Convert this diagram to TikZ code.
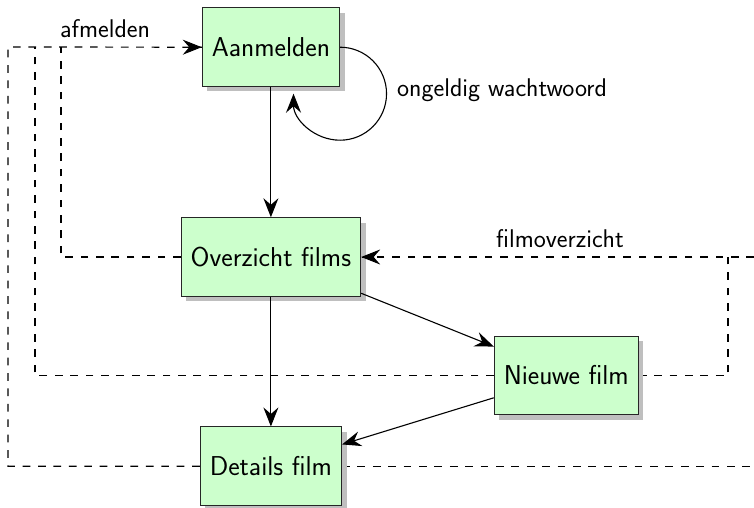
\documentclass[tikz,border=0pt]{standalone}
\usepackage{fontspec}
\usetikzlibrary{arrows.meta,shadows,backgrounds}
\definecolor{boxgreen}{HTML}{CCFFCC}
\begin{document}
\begin{tikzpicture}[x=1pt,y=-1pt,
  state/.style={draw=black!85, line width=1pt, fill=boxgreen,
    font=\sffamily\fontsize{27.3}{32}\selectfont,
    inner xsep=9.5pt, minimum height=78.5pt,
    drop shadow={shadow xshift=5pt, shadow yshift=-5pt, fill=black!25, opacity=1}},
  lbl/.style={font=\sffamily\fontsize{25.6}{30}\selectfont, inner sep=0pt},
  tip/.style={-{Stealth[length=19pt,width=15pt,inset=6.5pt]}},
  arr/.style={line width=1.1pt, tip},
  dline/.style={line width=1.2pt, black, dash pattern=on 7.7pt off 7.7pt}]
\useasboundingbox (0,0) rectangle (754,508);

\node[state] (aan) at (270.9,47.2) {Aanmelden};
\node[state] (ovz) at (270.9,257) {Overzicht films};
\node[state] (nw)  at (566.3,375.5) {Nieuwe film};
\node[state] (det) at (270.9,466.2) {Details film};

\coordinate (c8)   at (8,47);
\coordinate (c35)  at (35,47);
\coordinate (c61)  at (61,47);
\coordinate (rdet) at (754,466.2);
\coordinate (rovz) at (754,257);
\coordinate (c728) at (728,257);

\begin{scope}[on background layer]
  \draw[dline] (det.west) -| (c8) -- (aan.west);
  \draw[dline] (ovz.west) -| (c61);
  \draw[dline] (nw.west) -| (c35);
  \draw[dline] (det.east) -- (rdet);
  \draw[dline] (rovz) -- (ovz.east);
  \draw[dline] (nw.east) -| (c728);
\end{scope}
\draw[line width=1pt, tip] ([xshift=1pt]ovz.east) -- (ovz.east);
\draw[line width=1pt, tip] ([xshift=-1pt]aan.west) -- (aan.west);

\node[lbl, anchor=base west] (lafm)  at (60,38) {afmelden};
\node[lbl, anchor=base west] (long)  at (397,97) {ongeldig wachtwoord};
\node[lbl, anchor=base west] (lfilm) at (496,247) {filmoverzicht};

\draw[arr] (aan) -- (ovz);
\draw[arr] (ovz) -- (det);
\draw[arr] (ovz) -- (nw);
\draw[arr] (nw) -- (det);
\draw[arr] (aan.east) arc[start angle=-90, end angle=180, radius=46.5];
\end{tikzpicture}
\end{document}
